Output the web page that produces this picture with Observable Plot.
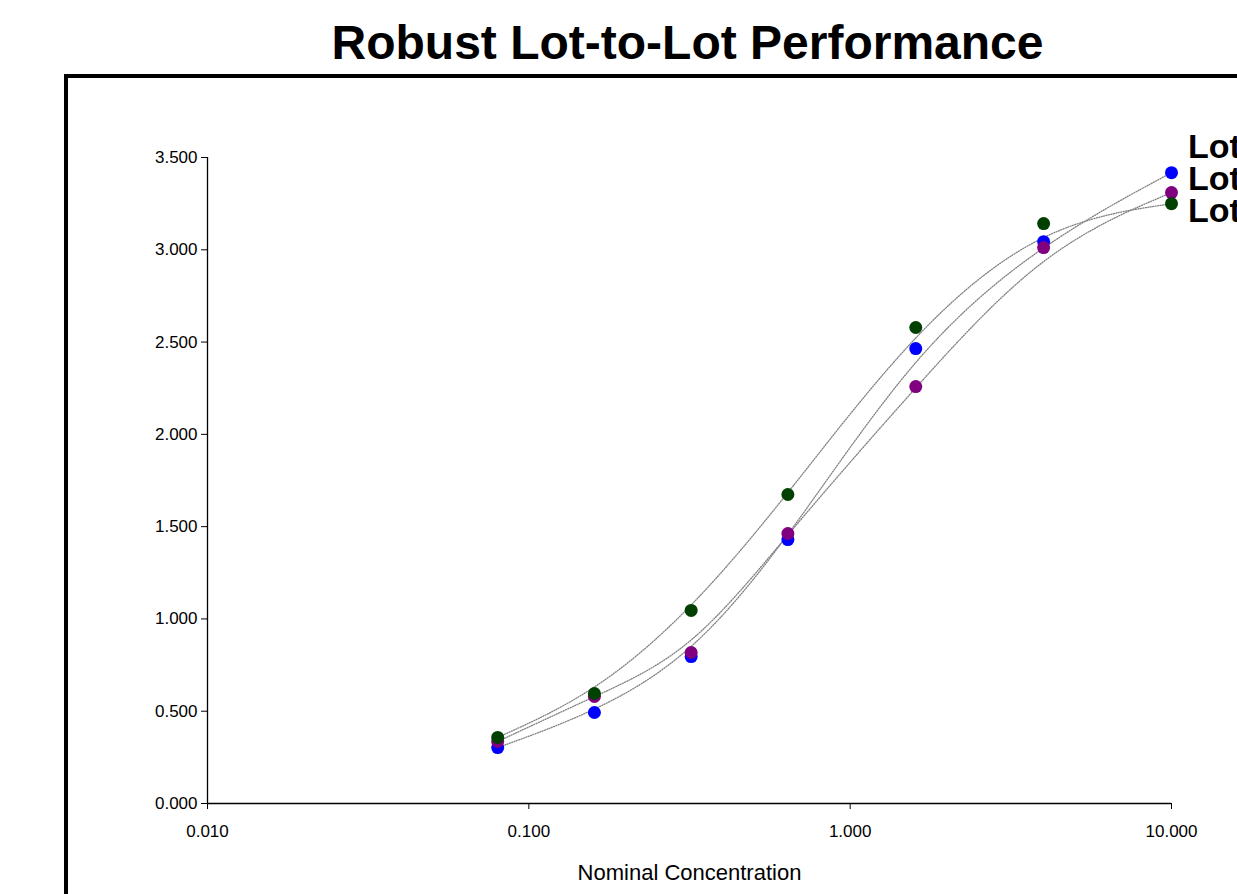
<!DOCTYPE html>
<html>
<head>
<meta charset="utf-8">
<script src="https://cdn.jsdelivr.net/npm/d3@7"></script>
<script src="https://cdn.jsdelivr.net/npm/@observablehq/plot@0.6"></script>
<style>
  html, body { margin: 0; padding: 0; width: 1237px; height: 894px; overflow: hidden; background: white; font-family: "Liberation Sans", Arial, sans-serif; }
  #title { position: absolute; left: 0; width: 1375px; top: 15px; text-align: center; font-weight: bold; font-size: 48px; z-index: 3; }
  #frame { position: absolute; left: 64px; top: 74px; width: 1400px; height: 1000px; border: 4px solid black; z-index: 1; }
  #chart { position: absolute; left: 0; top: 0; z-index: 2; }
  #legend { position: absolute; left: 1188px; top: 130px; z-index: 3; font-weight: bold; font-size: 34px; line-height: 32px; white-space: nowrap; }
</style>
</head>
<body>
<div id="title">Robust Lot-to-Lot Performance</div>
<div id="frame"></div>
<div id="chart"></div>
<div id="legend"></div>
<script>
const concentrations = [0.08, 0.16, 0.32, 0.64, 1.6, 4, 10];
const lotNames = ["Lot 1", "Lot 2", "Lot 3"];
const lot1 = [0.303, 0.493, 0.796, 1.430, 2.465, 3.044, 3.418];
const lot2 = [0.336, 0.580, 0.818, 1.463, 2.259, 3.012, 3.310];
const lot3 = [0.358, 0.596, 1.046, 1.674, 2.579, 3.142, 3.250];
const lotColors = ["#0000ff", "#800080", "#004000"];
const yTicks = [0, 0.5, 1, 1.5, 2, 2.5, 3, 3.5];
const xTicks = [0.01, 0.1, 1, 10];

const series = [lot1, lot2, lot3];
const rows = [];
series.forEach((vals, i) => vals.forEach((v, j) => rows.push({lot: lotNames[i], x: concentrations[j], y: v})));

const fmt = d3.format(".3f");
const plot = Plot.plot({
  width: 1237,
  height: 894,
  marginLeft: 207,
  marginRight: 66,
  marginTop: 157,
  marginBottom: 91,
  style: {background: "transparent", fontFamily: "'Liberation Sans', Arial, sans-serif", fontSize: "18px", color: "black"},
  x: {type: "log", domain: [0.01, 10], ticks: xTicks, tickFormat: fmt, label: null},
  y: {domain: [0, 3.5], ticks: yTicks, tickFormat: fmt, label: null},
  color: {domain: lotNames, range: lotColors},
  marks: [
    Plot.line(rows, {x: "x", y: "y", z: "lot", curve: "basis", stroke: "#808080", strokeWidth: 1.3, strokeDasharray: "1,1.5"}),
    Plot.ruleY([0], {stroke: "black", strokeWidth: 1.3}),
    Plot.ruleX([0.01], {stroke: "black", strokeWidth: 1.3}),
    Plot.axisY({ticks: yTicks, tickFormat: fmt, tickSize: 6, tickPadding: 4, fontSize: 17, label: null}),
    Plot.axisX({ticks: xTicks, tickFormat: fmt, tickSize: 6, tickPadding: 15, fontSize: 17, label: null}),
    Plot.dot(rows, {x: "x", y: "y", fill: "lot", r: 6.5, stroke: null}),
    Plot.text(["Nominal Concentration"], {frameAnchor: "bottom", dy: 76, fontSize: 22, fill: "black"})
  ]
});
document.getElementById("chart").appendChild(plot);
document.getElementById("legend").innerHTML = lotNames.map(n => `<div>${n}</div>`).join("");
</script>
</body>
</html>
